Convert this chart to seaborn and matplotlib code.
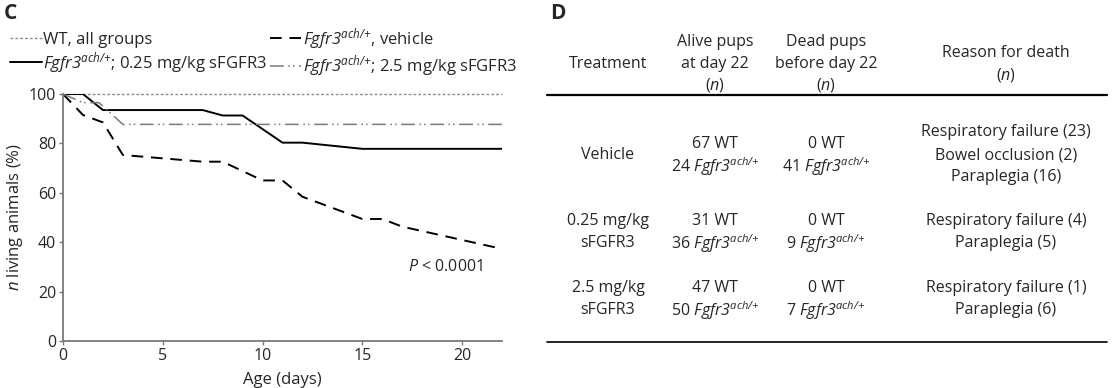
import matplotlib
matplotlib.use("Agg")
import matplotlib.pyplot as plt
from matplotlib.lines import Line2D
import seaborn as sns

# survival curves (% of Fgfr3 ach/+ animals alive)
days_wt = [0, 22]
surv_wt = [100, 100]
days_veh = [0, 1, 2, 3, 7, 8, 10, 11, 12, 15, 16, 17, 22]
surv_veh = [100, 91.5, 88.5, 75.3, 72.6, 72.6, 65, 65, 58.4, 49.4, 49.4, 46.3, 37.3]
days_low = [0, 1, 2, 7, 8, 9, 11, 12, 15, 22]
surv_low = [100, 100, 93.5, 93.5, 91.3, 91.3, 80.3, 80.3, 77.8, 77.8]
days_high = [0, 1, 1.8, 3, 22]
surv_high = [100, 96.5, 96.5, 87.7, 87.7]

# italic gene name; \mathsf is mapped to the italic face so the "3" is slanted too
ACH = r"$\mathsf{Fgfr3}^{\mathsf{ach/{+}}}$"

# table contents for panel D
header_cols = [["Treatment"],
               ["Alive pups", "at day 22", r"($\mathsf{n}$)"],
               ["Dead pups", "before day 22", r"($\mathsf{n}$)"],
               ["Reason for death", r"($\mathsf{n}$)"]]
treatments = [["Vehicle"], ["0.25 mg/kg", "sFGFR3"], ["2.5 mg/kg", "sFGFR3"]]
alive_wt = [67, 31, 47]
alive_ach = [24, 36, 50]
dead_wt = [0, 0, 0]
dead_ach = [41, 9, 7]
reasons = [["Respiratory failure (23)", "Bowel occlusion (2)", "Paraplegia (16)"],
           ["Respiratory failure (4)", "Paraplegia (5)"],
           ["Respiratory failure (1)", "Paraplegia (6)"]]

sns.set_theme(style="white")
FONT = "Open Sans"
plt.rcParams["font.family"] = [FONT, "DejaVu Sans"]
plt.rcParams["mathtext.fontset"] = "custom"
plt.rcParams["mathtext.rm"] = FONT
plt.rcParams["mathtext.it"] = FONT + ":italic"
plt.rcParams["mathtext.sf"] = FONT + ":italic"
plt.rcParams["mathtext.bf"] = FONT + ":bold"

W, H = 1113, 388
fig = plt.figure(figsize=(W / 100, H / 100), dpi=100)
fs = 11.5


def fx(px):
    return px / W


def fy(py):
    return 1 - py / H


# ---- panel C ----
ax = fig.add_axes([fx(63), fy(341), fx(502) - fx(63), fy(94) - fy(341)])
grey = "#7a7a7a"
sns.lineplot(x=days_wt, y=surv_wt, ax=ax, color="#8c8c8c", lw=1.0,
             linestyle=(0, (2, 1.5)), label="WT, all groups", clip_on=False)
sns.lineplot(x=days_low, y=surv_low, ax=ax, color="black", lw=1.4,
             label=ACH + "; 0.25 mg/kg sFGFR3")
sns.lineplot(x=days_veh, y=surv_veh, ax=ax, color="black", lw=1.4,
             linestyle=(0, (6, 4)), label=ACH + ", vehicle")
sns.lineplot(x=days_high, y=surv_high, ax=ax, color=grey, lw=1.1,
             linestyle=(0, (9, 3, 1, 2, 1, 3)), label=ACH + "; 2.5 mg/kg sFGFR3")

ax.set_xlim(0, 22)
ax.set_ylim(0, 100)
ax.set_xticks([0, 5, 10, 15, 20])
ax.set_yticks([0, 20, 40, 60, 80, 100])
for s in ["top", "right"]:
    ax.spines[s].set_visible(False)
for s in ["left", "bottom"]:
    ax.spines[s].set_color(grey)
    ax.spines[s].set_linewidth(1.3)
ax.tick_params(axis="both", which="both", direction="out", length=3, width=1,
               color=grey, labelsize=fs, pad=2, bottom=True, left=True)
ax.set_xlabel("Age (days)", fontsize=fs + 0.5, labelpad=6)
ax.set_ylabel(r"$\mathsf{n}$ living animals (%)", fontsize=fs + 0.5, labelpad=3)
ax.text(17.3, 30, r"$\mathsf{P}$ < 0.0001", fontsize=fs, va="center", ha="left")

handles, labels = ax.get_legend_handles_labels()
ax.legend(handles, labels, ncol=2, loc="upper left", frameon=False,
          bbox_to_anchor=(fx(10), fy(26)), bbox_transform=fig.transFigure,
          fontsize=fs + 0.5, handlelength=1.9, handletextpad=0.1,
          columnspacing=0.15, labelspacing=0.1, borderaxespad=0, borderpad=0)

fig.text(fx(4), fy(3), "C", fontsize=15, fontweight="bold", va="top", ha="left")
fig.text(fx(550), fy(3), "D", fontsize=15, fontweight="bold", va="top", ha="left")

# ---- panel D ----
col_x = [608, 715, 826, 1006]
header_y = [[64], [42, 64, 85], [42, 64, 85], [53, 75]]
for cx, lines, ys in zip(col_x, header_cols, header_y):
    for txt, yy in zip(lines, ys):
        fig.text(fx(cx), fy(yy), txt, fontsize=fs, ha="center", va="center")

fig.add_artist(Line2D([fx(547), fx(1107)], [fy(95), fy(95)], color="black", lw=1.6))
fig.add_artist(Line2D([fx(547), fx(1107)], [fy(342), fy(342)], color="black", lw=1.2))

row_y = [155, 232, 299]
pitch = 22.5
for i, ry in enumerate(row_y):
    cells = [treatments[i],
             [f"{alive_wt[i]} WT", f"{alive_ach[i]} " + ACH],
             [f"{dead_wt[i]} WT", f"{dead_ach[i]} " + ACH],
             reasons[i]]
    for cx, lines in zip(col_x, cells):
        n = len(lines)
        for k, txt in enumerate(lines):
            yy = ry + (k - (n - 1) / 2) * pitch
            fig.text(fx(cx), fy(yy), txt, fontsize=fs, ha="center", va="center")

fig.savefig("out.png", dpi=100)
